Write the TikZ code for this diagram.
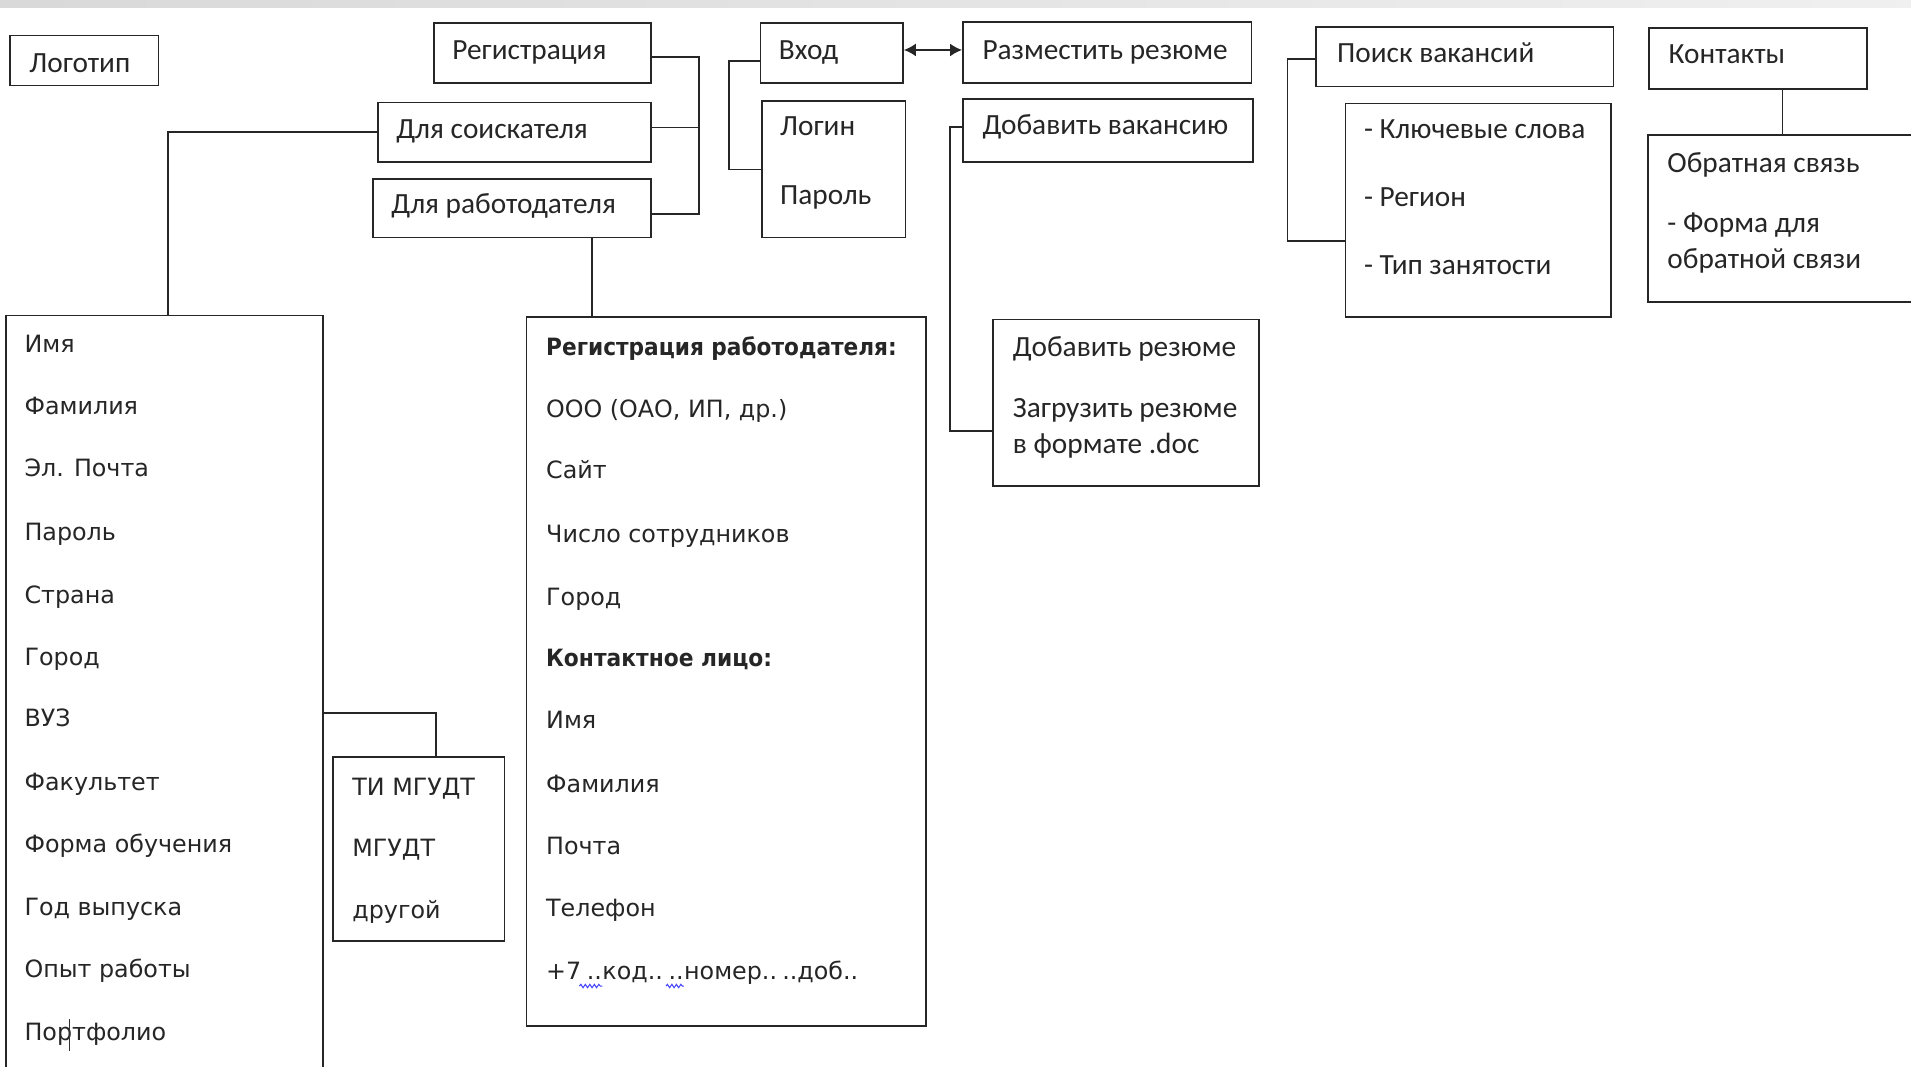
\documentclass[tikz,border=0pt]{standalone}
\usepackage{fontspec}
\newfontfamily\calfont{Carlito}
\newfontfamily\verfont{DejaVu Sans}
\usetikzlibrary{fit,calc,arrows.meta,decorations.pathmorphing}
\begin{document}
\begin{tikzpicture}[x=1.2188pt,y=-1.2188pt,
  box/.style={draw=black!85, line width=1.6pt, inner sep=0pt, rectangle},
  ln/.style={draw=black!85, line width=1.6pt},
  ct/.style={anchor=west, inner sep=0pt, text height=0.6em, text depth=0pt, text=black!85,
    font=\calfont\fontsize{29.3}{34}\selectfont},
  vt/.style={anchor=west, inner sep=0pt, text height=0.7em, text depth=0pt, text=black!85,
    font=\verfont\fontsize{23.8}{28}\selectfont},
  vb/.style={vt, font=\verfont\bfseries\fontsize{23.8}{28}\selectfont},
  squig/.style={draw=blue!75, line width=1pt, decorate, decoration={snake, amplitude=1.7pt, segment length=4.5pt}},
]
\useasboundingbox (0,0) rectangle (1568,875);
\clip (0,0) rectangle (1568,875);
\fill[white] (0,0) rectangle (1568,875);
\shade[left color=black!15, right color=black!6] (0,0) rectangle (1568,6);

% boxes
\node[box, fit={(8,29) (130,70)}] (logo) {};
\node[box, fit={(356,19) (534,68)}] (reg) {};
\node[box, fit={(310,84) (534,133)}] (soisk) {};
\node[box, fit={(306,147) (534,195)}] (rabot) {};
\node[box, fit={(624,19) (741,68)}] (vhod) {};
\node[box, fit={(625,83) (743,195)}] (login) {};
\node[box, fit={(790,18) (1027,68)}] (razm) {};
\node[box, fit={(790,81) (1028,133)}] (dobvak) {};
\node[box, fit={(815,262) (1033,399)}] (dobrez) {};
\node[box, fit={(1080,22) (1324,71)}] (poisk) {};
\node[box, fit={(1104,85) (1322,260)}] (kw) {};
\node[box, fit={(1353,23) (1532,73)}] (kont) {};
\node[box, fit={(1352,111) (1580,248)}] (obr) {};
\node[box, fit={(5,259) (265,885)}] (leftbox) {};
\node[box, fit={(432,260) (760,842)}] (regrab) {};
\node[box, fit={(273,621) (414,772)}] (ti) {};

% Calibri texts
\node[ct] (tlogo) at (24,57) {Логотип};
\node[ct] (treg) at (371,46) {Регистрация};
\node[ct] (tsoisk) at (325,111) {Для соискателя};
\node[ct] (trabot) at (321,173) {Для работодателя};
\node[ct] (tvhod) at (639,46) {Вход};
\node[ct] (tlogin) at (640,109) {Логин};
\node[ct] (tpass) at (640,165) {Пароль};
\node[ct] (trazm) at (806,46) {Разместить резюме};
\node[ct] (tdobvak) at (806,108) {Добавить вакансию};
\node[ct] (tdr1) at (831,290) {Добавить резюме};
\node[ct] (tdr2) at (831,340) {Загрузить резюме};
\node[ct] (tdr3) at (831,370) {в формате .doc};
\node[ct] (tpoisk) at (1097,49) {Поиск вакансий};
\node[ct] (tkw1) at (1119,111) {- Ключевые слова};
\node[ct] (tkw2) at (1119,167) {- Регион};
\node[ct] (tkw3) at (1119,223) {- Тип занятости};
\node[ct] (tkont) at (1369,50) {Контакты};
\node[ct] (tobr1) at (1368,139) {Обратная связь};
\node[ct] (tobr2) at (1368,188) {- Форма для};
\node[ct] (tobr3) at (1368,218) {обратной связи};

% left list
\node[vt] (l1) at (20,286) {Имя};
\node[vt] (l2) at (20,337) {Фамилия};
\node[vt] (l3) at (20,388) {Эл. Почта};
\node[vt] (l4) at (20,441) {Пароль};
\node[vt] (l5) at (20,492) {Страна};
\node[vt] (l6) at (20,543) {Город};
\node[vt] (vuz) at (20,593) {ВУЗ};
\node[vt] (l8) at (20,646) {Факультет};
\node[vt] (l9) at (20,697) {Форма обучения};
\node[vt] (l10) at (20,748) {Год выпуска};
\node[vt] (l11) at (20,799) {Опыт работы};
\node[vt] (l12) at (20,851) {Портфолио};
\draw[black!80, line width=0.6pt] (57,836) -- (57,862);

% TI box
\node[vt] (ti1) at (289,650) {ТИ МГУДТ};
\node[vt] (ti2) at (289,700) {МГУДТ};
\node[vt] (ti3) at (289,751) {другой};

% employer registration
\node[vb] (r1) at (448,289) {\scalebox{0.91}[1]{Регистрация работодателя:}};
\node[vt] (r2) at (448,340) {ООО (ОАО, ИП, др.)};
\node[vt] (r3) at (448,390) {Сайт};
\node[vt] (r4) at (448,442) {Число сотрудников};
\node[vt] (r5) at (448,494) {Город};
\node[vb] (r6) at (448,544) {\scalebox{0.915}[1]{Контактное лицо:}};
\node[vt] (r7) at (448,595) {Имя};
\node[vt] (r8) at (448,647) {Фамилия};
\node[vt] (r9) at (448,698) {Почта};
\node[vt] (r10) at (448,749) {Телефон};
\node[vt] (ph1) at (448,801) {+7\kern0.22em};
\node[vt] (ph2) at (ph1.east) {..};
\node[vt] (ph3) at (ph2.east) {код..\kern0.22em};
\node[vt] (ph4) at (ph3.east) {..};
\node[vt] (ph5) at (ph4.east) {номер..\kern0.22em..доб..};
\draw[squig] ($(ph2.south west)+(-6,5)$) -- ($(ph2.south east)+(0,5)$);
\draw[squig] ($(ph4.south west)+(-2,5)$) -- ($(ph4.south east)+(0,5)$);

% connectors
\coordinate (rg) at ($(reg.east)+(0,3.5)$);
\coordinate (sk) at ($(soisk.east)+(0,-4)$);
\coordinate (rb) at ($(rabot.east)+(0,4.5)$);
\draw[ln] (rg) -- ++(39,0) |- (rb);
\draw[ln] (sk) -- ++(39,0);
\coordinate (vh) at ($(vhod.west)+(0,6.5)$);
\draw[ln] (vh) -- ++(-25,0) |- (login.west);
\coordinate (va) at ($(vhod.east)+(0,-2.5)$);
\draw[ln, {Latex[length=12pt,width=13pt]}-{Latex[length=12pt,width=13pt]}] (va) -- (va -| razm.west);
\coordinate (dv) at ($(dobvak.west)+(0,-3)$);
\coordinate (dr) at ($(dobrez.west)+(0,23)$);
\draw[ln] (dv) -- ++(-10,0) |- (dr);
\coordinate (pk) at ($(poisk.west)+(0,2)$);
\coordinate (kwc) at ($(kw.west)+(0,25)$);
\draw[ln] (pk) -- ++(-23,0) |- (kwc);
\coordinate (k1) at ($(kont.south)+(20,0)$);
\draw[ln] (k1) -- (k1 |- obr.north);
\coordinate (lb1) at ($(leftbox.north)+(3,0)$);
\draw[ln] (soisk.west) -| (lb1);
\coordinate (rr) at ($(rabot.south east)+(-49,0)$);
\draw[ln] (rr) -- (rr |- regrab.north);
\coordinate (tic) at ($(ti.north)+(14,0)$);
\coordinate (vz) at ($(vuz.west)+(0,-8)$);
\draw[ln] (leftbox.east |- vz) -| (tic);
\end{tikzpicture}
\end{document}
